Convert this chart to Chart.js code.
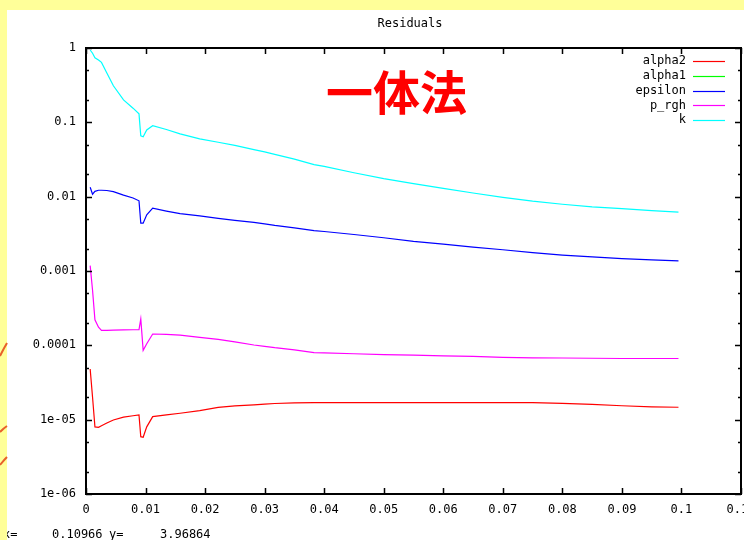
<!DOCTYPE html>
<html>
<head>
<meta charset="utf-8">
<script src="https://cdn.jsdelivr.net/npm/chart.js@4/dist/chart.umd.min.js"></script>
<style>
  html, body { margin: 0; padding: 0; background: #ffff99; }
  canvas { display: block; }
</style>
</head>
<body>
<canvas id="myChart" width="744" height="540"></canvas>
<script>
// Variables
const times = [0.0007, 0.0011, 0.0015, 0.0021, 0.0026, 0.0035, 0.0046, 0.0063, 0.0079, 0.0089,
    0.0092, 0.0096, 0.0102, 0.0112, 0.0135, 0.0158, 0.0191, 0.0222, 0.025, 0.0282,
    0.03, 0.0317, 0.035, 0.0383, 0.04, 0.045, 0.05, 0.055, 0.06, 0.065,
    0.07, 0.075, 0.08, 0.085, 0.09, 0.095, 0.0995];

const alpha2 = [4.8e-5, 2.0e-5, 8.0e-6, 7.9e-6, 8.3e-6, 9.0e-6, 9.9e-6, 1.08e-5, 1.13e-5, 1.16e-5,
    5.9e-6, 5.8e-6, 8.0e-6, 1.1e-5, 1.16e-5, 1.22e-5, 1.32e-5, 1.46e-5, 1.53e-5, 1.58e-5,
    1.62e-5, 1.65e-5, 1.68e-5, 1.70e-5, 1.70e-5, 1.70e-5, 1.70e-5, 1.70e-5, 1.70e-5, 1.70e-5,
    1.70e-5, 1.70e-5, 1.66e-5, 1.61e-5, 1.54e-5, 1.49e-5, 1.47e-5];

const alpha1 = [];

const epsilon = [0.0134, 0.0108, 0.0118, 0.0122, 0.0122, 0.0121, 0.0117, 0.0105, 0.0096, 0.0088,
    0.0044, 0.0044, 0.0057, 0.0070, 0.0064, 0.0059, 0.0055, 0.0051, 0.0048, 0.0045,
    0.0043, 0.0041, 0.0038, 0.0035, 0.0034, 0.0031, 0.0028, 0.0025, 0.0023, 0.0021,
    0.00193, 0.00177, 0.00164, 0.00155, 0.00147, 0.00141, 0.00137];

const pRgh = [0.00118, 0.00055, 0.00022, 0.000175, 0.000159, 0.000159, 0.00016, 0.000161, 0.000162, 0.000163,
    0.000226, 0.0000855, 0.000105, 0.000142, 0.00014, 0.000137, 0.000128, 0.00012, 0.000111, 0.000101,
    0.000097, 0.000093, 0.000087, 0.00008, 0.000079, 0.000077, 0.000075, 0.000074, 0.000072, 0.000071,
    0.000069, 0.000068, 0.0000675, 0.000067, 0.0000665, 0.0000665, 0.0000665];

const k = [0.94, 0.85, 0.74, 0.69, 0.64, 0.46, 0.31, 0.20, 0.155, 0.13,
    0.066, 0.064, 0.079, 0.090, 0.080, 0.070, 0.060, 0.054, 0.049, 0.043,
    0.040, 0.037, 0.032, 0.027, 0.0255, 0.021, 0.0175, 0.015, 0.0129, 0.0112,
    0.0098, 0.0087, 0.0079, 0.0073, 0.0069, 0.0065, 0.0062];

const xTicks = [0, 0.01, 0.02, 0.03, 0.04, 0.05, 0.06, 0.07, 0.08, 0.09, 0.1, 0.11];
const xTickLabels = ["0", "0.01", "0.02", "0.03", "0.04", "0.05", "0.06", "0.07", "0.08", "0.09", "0.1", "0.11"];
const yTicks = [1, 0.1, 0.01, 0.001, 0.0001, 1e-5, 1e-6];
const yTickLabels = ["1", "0.1", "0.01", "0.001", "0.0001", "1e-05", "1e-06"];

const chartTitle = "Residuals";
const bigLabel = "一体法";
const statusX = "0.10966";
const statusY = "3.96864";

const mono = "12px 'DejaVu Sans Mono', monospace";

let toPoints = (ys) => ys.map((y, i) => ({ x: times[i], y: y }));

// Gnuplot-like frame, ticks, labels and legend
const gnuplotFrame = {
    id: "gnuplotFrame",
    beforeDraw(chart) {
        const ctx = chart.ctx;
        ctx.save();
        ctx.fillStyle = "#ffff99";
        ctx.fillRect(0, 0, chart.width, chart.height);
        ctx.fillStyle = "#ffffff";
        ctx.fillRect(7, 10, chart.width - 7, chart.height - 10);
        ctx.restore();
    },
    afterDraw(chart) {
        const ctx = chart.ctx;
        const area = chart.chartArea;
        const xs = chart.scales.x;
        const ys = chart.scales.y;
        ctx.save();

        // border
        ctx.strokeStyle = "#000";
        ctx.lineWidth = 2;
        ctx.strokeRect(area.left, area.top, area.right - area.left, area.bottom - area.top);

        // x ticks (bottom and top)
        ctx.lineWidth = 1.5;
        ctx.beginPath();
        xTicks.forEach((v) => {
            const px = Math.round(xs.getPixelForValue(v)) + 0.5;
            ctx.moveTo(px, area.bottom);
            ctx.lineTo(px, area.bottom - 6);
            ctx.moveTo(px, area.top);
            ctx.lineTo(px, area.top + 6);
        });
        // y ticks (left and right), minor at 2 and 5 of each decade
        yTicks.forEach((v, i) => {
            const py = Math.round(ys.getPixelForValue(v)) + 0.5;
            ctx.moveTo(area.left, py);
            ctx.lineTo(area.left + 6, py);
            ctx.moveTo(area.right, py);
            ctx.lineTo(area.right - 6, py);
            if (i > 0) {
                [2, 5].forEach((m) => {
                    const my = Math.round(ys.getPixelForValue(v * m)) + 0.5;
                    ctx.moveTo(area.left, my);
                    ctx.lineTo(area.left + 3, my);
                    ctx.moveTo(area.right, my);
                    ctx.lineTo(area.right - 3, my);
                });
            }
        });
        ctx.stroke();

        // tick labels
        ctx.fillStyle = "#000";
        ctx.font = mono;
        ctx.textBaseline = "middle";
        ctx.textAlign = "center";
        xTicks.forEach((v, i) => {
            ctx.fillText(xTickLabels[i], xs.getPixelForValue(v), area.bottom + 16);
        });
        ctx.textAlign = "right";
        yTicks.forEach((v, i) => {
            ctx.fillText(yTickLabels[i], area.left - 10, ys.getPixelForValue(v));
        });

        // title
        ctx.textAlign = "center";
        ctx.fillText(chartTitle, 410, 24);

        // legend: text right aligned, sample line on the right
        chart.data.datasets.forEach((ds, i) => {
            const ly = 61 + i * 14.8;
            ctx.textAlign = "right";
            ctx.fillStyle = "#000";
            ctx.fillText(ds.label, 686, ly);
            ctx.strokeStyle = ds.borderColor;
            ctx.lineWidth = 1.2;
            ctx.beginPath();
            ctx.moveTo(693, Math.round(ly) + 0.5);
            ctx.lineTo(725, Math.round(ly) + 0.5);
            ctx.stroke();
        });

        // big red label
        ctx.fillStyle = "#ff0000";
        ctx.font = "bold 47px 'Noto Sans CJK JP', 'Noto Sans CJK SC', sans-serif";
        ctx.textAlign = "left";
        ctx.fillText(bigLabel, 326, 92);

        // status line
        ctx.fillStyle = "#000";
        ctx.font = mono;
        ctx.textAlign = "left";
        ctx.fillText("x=", 3, 535);
        ctx.fillText(statusX, 52, 535);
        ctx.fillText("y=", 109, 535);
        ctx.fillText(statusY, 160, 535);

        // yellow strip on the left, with bits of the slide behind it
        ctx.fillStyle = "#ffff99";
        ctx.fillRect(0, 0, 7, chart.height);
        ctx.fillRect(0, 0, 3, chart.height);
        ctx.strokeStyle = "#e8602a";
        ctx.lineWidth = 2;
        ctx.beginPath();
        ctx.moveTo(0, 356); ctx.quadraticCurveTo(4, 348, 7, 343);
        ctx.moveTo(0, 432); ctx.quadraticCurveTo(4, 428, 7, 426);
        ctx.moveTo(0, 465); ctx.quadraticCurveTo(4, 460, 7, 457);
        ctx.stroke();

        ctx.restore();
    }
};

let init = () => {
    const ctx = document.getElementById("myChart").getContext("2d");

    new Chart(ctx, {
        type: "line",
        data: {
            datasets: [
                { label: "alpha2", data: toPoints(alpha2), borderColor: "#ff0000" },
                { label: "alpha1", data: toPoints(alpha1), borderColor: "#00ff00" },
                { label: "epsilon", data: toPoints(epsilon), borderColor: "#0000ff" },
                { label: "p_rgh", data: toPoints(pRgh), borderColor: "#ff00ff" },
                { label: "k", data: toPoints(k), borderColor: "#00ffff" }
            ]
        },
        options: {
            responsive: false,
            animation: false,
            layout: { padding: { left: 86, right: 3, top: 48, bottom: 46 } },
            elements: {
                point: { radius: 0 },
                line: { borderWidth: 1.2, tension: 0, fill: false }
            },
            plugins: {
                legend: { display: false },
                tooltip: { enabled: false },
                title: { display: false }
            },
            scales: {
                x: { type: "linear", min: 0, max: 0.11, display: false },
                y: { type: "logarithmic", min: 1e-6, max: 1, display: false }
            }
        },
        plugins: [gnuplotFrame]
    });
};

init();
</script>
</body>
</html>
